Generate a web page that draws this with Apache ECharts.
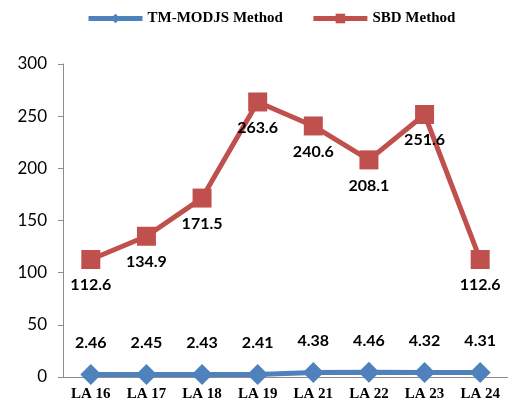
<!DOCTYPE html>
<html>
<head>
<meta charset="utf-8">
<script src="https://cdn.jsdelivr.net/npm/echarts@6/dist/echarts.min.js"></script>
<style>
  html, body { margin: 0; padding: 0; background: #fff; }
  #chart { width: 508px; height: 405px; }
</style>
</head>
<body>
<div id="chart"></div>
<script>
// chart data
const categories = ['LA 16', 'LA 17', 'LA 18', 'LA 19', 'LA 21', 'LA 22', 'LA 23', 'LA 24']
const tmModjs = [2.46, 2.45, 2.43, 2.41, 4.38, 4.46, 4.32, 4.31]
const sbd = [112.6, 134.9, 171.5, 263.6, 240.6, 208.1, 251.6, 112.6]

const serif = '"Liberation Serif", "DejaVu Serif", serif'
const sans = 'Lato, "Open Sans", sans-serif'

const chart = echarts.init(document.getElementById('chart'))

chart.setOption({
  animation: false,
  backgroundColor: '#fff',
  legend: {
    top: 11,
    left: 86,
    padding: 0,
    itemWidth: 54,
    itemHeight: 12,
    itemGap: 28,
    lineStyle: { width: 5 },
    textStyle: { fontFamily: serif, fontWeight: 'bold', fontSize: 15, color: '#000' },
    data: ['TM-MODJS Method', 'SBD Method']
  },
  grid: { left: 63, top: 64, width: 447, height: 313, containLabel: false },
  xAxis: {
    type: 'category',
    data: categories,
    boundaryGap: true,
    axisLine: { lineStyle: { color: '#8c8c8c', width: 1 } },
    axisTick: { show: false },
    axisLabel: { fontFamily: serif, fontWeight: 'bold', fontSize: 15, color: '#000', margin: 10, interval: 0 }
  },
  yAxis: {
    type: 'value',
    min: 0,
    max: 300,
    interval: 50,
    splitLine: { show: false },
    axisLine: { show: true, lineStyle: { color: '#8c8c8c', width: 1 } },
    axisTick: { show: true, length: 5, lineStyle: { color: '#8c8c8c' } },
    axisLabel: { fontFamily: sans, fontSize: 17, color: '#000', margin: 16 }
  },
  series: [
    {
      name: 'TM-MODJS Method',
      type: 'line',
      data: tmModjs,
      symbol: 'diamond',
      symbolSize: 21,
      lineStyle: { color: '#4f81bd', width: 5 },
      itemStyle: { color: '#4f81bd' },
      label: {
        show: true, position: 'top', distance: 13,
        fontFamily: sans, fontWeight: 'bold', fontSize: 16, color: '#000'
      }
    },
    {
      name: 'SBD Method',
      type: 'line',
      data: sbd,
      symbol: 'rect',
      symbolSize: 19,
      lineStyle: { color: '#c0504d', width: 5 },
      itemStyle: { color: '#c0504d' },
      label: {
        show: true, position: 'bottom', distance: 8,
        fontFamily: sans, fontWeight: 'bold', fontSize: 16, color: '#000'
      }
    }
  ]
})
</script>
</body>
</html>
